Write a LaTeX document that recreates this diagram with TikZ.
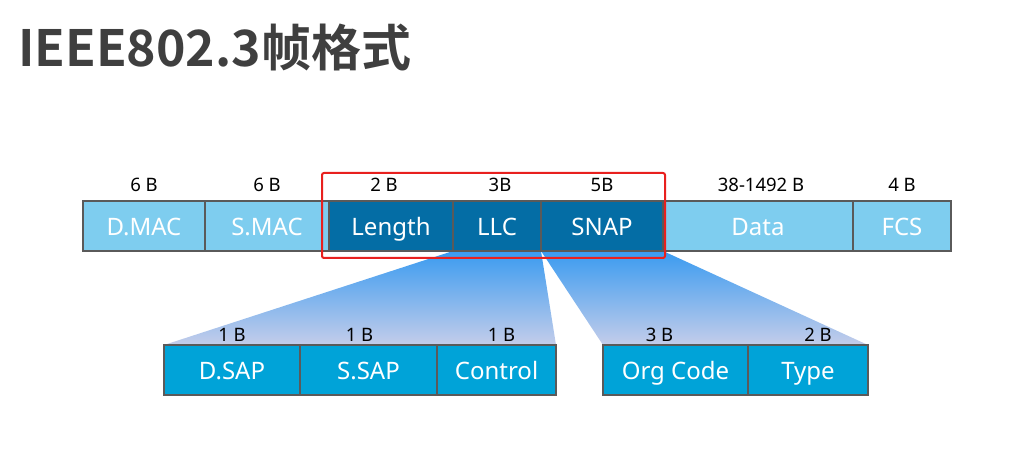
\documentclass[tikz,border=0pt]{standalone}
\usepackage{fontspec}
\setmainfont{Noto Sans}
\newfontfamily\titlefont{Noto Sans CJK SC Bold}
\usepackage{tikz}
\usetikzlibrary{positioning,backgrounds}
\definecolor{macblue}{HTML}{7ECDEF}
\definecolor{llcblue}{HTML}{046DA5}
\definecolor{subblue}{HTML}{00A3D8}
\definecolor{edge}{HTML}{5A5A5A}
\definecolor{fantop}{HTML}{3A9BF0}
\definecolor{fanbot}{HTML}{C4CDEA}
\definecolor{titlegray}{HTML}{3F3F3F}
\definecolor{frame}{HTML}{E8201E}

\begin{document}
\begin{tikzpicture}[x=1pt,y=-1pt,
  field/.style={draw=edge,line width=1.5pt,minimum height=50pt,inner sep=0pt,outer sep=0pt,
    text height=22pt,text depth=2pt,text=white,font=\fontsize{24}{24}\selectfont},
  size/.style={font=\fontsize{18.5}{18.5}\selectfont,inner sep=0pt},
  fan/.style={top color=fantop,bottom color=fanbot}]
  \useasboundingbox (0,0) rectangle (1026,462);
  \node[anchor=west,text=titlegray,font=\titlefont\fontsize{50}{50}\selectfont,inner sep=0pt]
    (title) at (18,47) {IEEE802.3帧格式};

  % frame fields
  \node[field,fill=macblue,minimum width=122pt,anchor=north west] (dmac) at (83,201) {D.MAC};
  \node[field,fill=macblue,minimum width=124pt,right=0pt of dmac] (smac) {S.MAC};
  \node[field,fill=llcblue,minimum width=124pt,right=0pt of smac] (len) {Length};
  \node[field,fill=llcblue,minimum width=88pt,right=0pt of len] (llc) {LLC};
  \node[field,fill=llcblue,minimum width=122pt,right=0pt of llc] (snap) {SNAP};
  \node[field,fill=macblue,minimum width=190pt,right=0pt of snap] (data) {Data};
  \node[field,fill=macblue,minimum width=98pt,right=0pt of data] (fcs) {FCS};

  \node[size,above=9pt of dmac] (dmacsz) {6 B};
  \node[size,above=9pt of smac] (smacsz) {6 B};
  \node[size,above=9pt of len,xshift=-7pt] (lensz) {2 B};
  \node[size,above=9pt of llc,xshift=3pt] (llcsz) {3B};
  \node[size,above=9pt of snap] (snapsz) {5B};
  \node[size,above=9pt of data,xshift=3pt] (datasz) {38-1492 B};
  \node[size,above=9pt of fcs] (fcssz) {4 B};

  % LLC and SNAP subfields
  \node[field,fill=subblue,minimum width=136pt,anchor=north west] (dsap) at (164,345) {D.SAP};
  \node[field,fill=subblue,minimum width=137pt,right=0pt of dsap] (ssap) {S.SAP};
  \node[field,fill=subblue,minimum width=119pt,right=0pt of ssap] (ctrl) {Control};
  \node[field,fill=subblue,minimum width=145pt,anchor=north west] (org) at (603,345) {Org Code};
  \node[field,fill=subblue,minimum width=120pt,right=0pt of org] (type) {Type};

  \node[size,above=3pt of dsap] (dsapsz) {1 B};
  \node[size,above=3pt of ssap,xshift=-9pt] (ssapsz) {1 B};
  \node[size,above=3pt of ctrl,xshift=5pt] (ctrlsz) {1 B};
  \node[size,above=3pt of org,xshift=-16pt] (orgsz) {3 B};
  \node[size,above=3pt of type,xshift=10pt] (typesz) {2 B};

  \begin{scope}[on background layer]
    \shade[fan] (llc.south west) -- (llc.south east) -- (ctrl.north east) -- (dsap.north west) -- cycle;
    \shade[fan] (snap.south west) -- (snap.south east) -- (type.north east) -- (org.north west) -- cycle;
  \end{scope}

  \draw[frame,line width=2pt,rounded corners=2pt] (322,173) rectangle (665,258);
\end{tikzpicture}
\end{document}
